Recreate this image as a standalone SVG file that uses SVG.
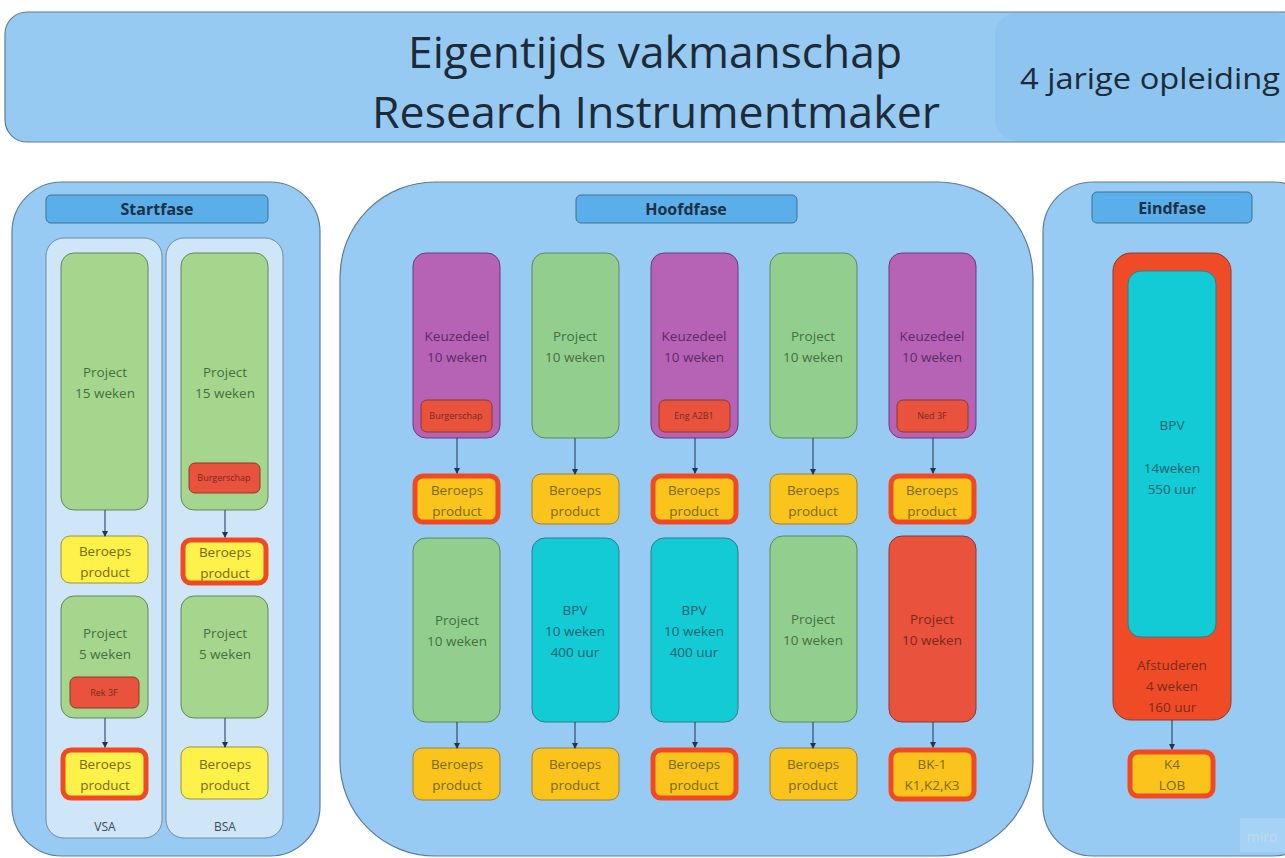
<svg xmlns="http://www.w3.org/2000/svg" width="1285" height="858" viewBox="0 0 1285 858">
<style>
text{font-family:"Open Sans","Noto Sans","Liberation Sans",sans-serif;text-anchor:middle}
.panel{fill:#98cbf4;stroke:#5f7d96;stroke-width:1.2}
.label{fill:#5aaeea;stroke:#3f6f94;stroke-width:1}
.lt{font-weight:bold;font-size:16px;fill:#1f2f44}
.col{fill:#cfe5f8;stroke:#6f8aa2;stroke-width:1}
.g1{fill:#a6d68e;stroke:#5f8a58;stroke-width:1}
.g2{fill:#92cf8f;stroke:#5a8a5a;stroke-width:1}
.pu{fill:#b763b5;stroke:#6b3a78;stroke-width:1}
.cy{fill:#12cbd4;stroke:#357a8a;stroke-width:1}
.rd{fill:#e9523c;stroke:#8a3a2c;stroke-width:1}
.ro{fill:#ef4b27;stroke:#8a3a2c;stroke-width:1}
.rs{fill:#e9523c;stroke:#8a3a2c;stroke-width:1}
.ye{fill:#fdf14a;stroke:#9a9440;stroke-width:1}
.or{fill:#fbc41d;stroke:#9a8040;stroke-width:1}
.hl{stroke:#f04a24;stroke-width:5}
.tg{font-size:13.5px;fill:#44703e}
.tp{font-size:13.5px;fill:#5a2a6a}
.tc{font-size:13.5px;fill:#1d6470}
.tr{font-size:13.5px;fill:#7a2a1c}
.ty{font-size:13.5px;fill:#7a6a14}
.ts{font-size:9px;fill:#7a2a1c}
.ht{font-weight:normal;fill:#1e2a36}
.cn{stroke:#1f3552;stroke-width:1;fill:none;marker-end:url(#ah)}
</style>
<defs>
<marker id="ah" markerWidth="6" markerHeight="6" refX="5" refY="3" orient="auto" markerUnits="userSpaceOnUse">
<path d="M0,0 L6,3 L0,6 z" fill="#1f3552"/>
</marker>
</defs>
<rect width="1285" height="858" fill="#ffffff"/>

<g id="header">
<rect x="5" y="12" width="1300" height="130" rx="22" fill="#97caf3" stroke="#5f7d96" stroke-width="1.2"/>
<rect x="995" y="13" width="300" height="128" rx="22" fill="#8dc4f0"/>
<text class="ht" x="655" y="68" font-size="44" textLength="494" lengthAdjust="spacingAndGlyphs">Eigentijds vakmanschap</text>
<text class="ht" x="656" y="128" font-size="44" textLength="568" lengthAdjust="spacingAndGlyphs">Research Instrumentmaker</text>
<text class="ht" x="1150" y="89" font-size="30" textLength="260" lengthAdjust="spacingAndGlyphs">4 jarige opleiding</text>
</g>

<g id="startfase">
<rect class="panel" x="12" y="182" width="308" height="674" rx="50"/>
<rect class="label" x="46" y="195" width="222" height="28" rx="5"/>
<text class="lt" x="157" y="215">Startfase</text>
<rect class="col" x="46" y="238" width="116" height="600" rx="18"/>
<rect class="col" x="166" y="238" width="117" height="600" rx="18"/>
<text x="105" y="831" font-size="12" fill="#3a4a5a">VSA</text>
<text x="225" y="831" font-size="12" fill="#3a4a5a">BSA</text>
</g>
<g id="s-p15a"><rect class="g1" x="61" y="253" width="87" height="257" rx="13"/><text class="tg" x="105" y="377">Project</text><text class="tg" x="105" y="398">15 weken</text></g>
<g id="s-p15b"><rect class="g1" x="181" y="253" width="87" height="257" rx="13"/><text class="tg" x="225" y="377">Project</text><text class="tg" x="225" y="398">15 weken</text>
<rect class="rs" x="189" y="463" width="71" height="30" rx="6"/><text class="ts" x="224" y="481">Burgerschap</text></g>
<g id="s-bp1"><rect class="ye" x="61" y="536" width="87" height="47" rx="9"/><text class="ty" x="105" y="556">Beroeps</text><text class="ty" x="105" y="577">product</text></g>
<g id="s-bp2"><rect class="ye hl" x="183" y="540" width="83" height="43" rx="8"/><text class="ty" x="225" y="557">Beroeps</text><text class="ty" x="225" y="578">product</text></g>
<g id="s-p5a"><rect class="g1" x="61" y="596" width="87" height="122" rx="13"/><text class="tg" x="105" y="638">Project</text><text class="tg" x="105" y="659">5 weken</text>
<rect class="rs" x="70" y="677" width="69" height="31" rx="6"/><text class="ts" x="104" y="696">Rek 3F</text></g>
<g id="s-p5b"><rect class="g1" x="181" y="596" width="87" height="122" rx="13"/><text class="tg" x="225" y="638">Project</text><text class="tg" x="225" y="659">5 weken</text></g>
<g id="s-bp3"><rect class="ye hl" x="63" y="750" width="83" height="48" rx="8"/><text class="ty" x="105" y="769">Beroeps</text><text class="ty" x="105" y="790">product</text></g>
<g id="s-bp4"><rect class="ye" x="181" y="747" width="87" height="52" rx="9"/><text class="ty" x="225" y="769">Beroeps</text><text class="ty" x="225" y="790">product</text></g>

<g id="hoofdfase">
<rect class="panel" x="340" y="182" width="693" height="674" rx="95"/>
<rect class="label" x="576" y="195" width="221" height="28" rx="5"/>
<text class="lt" x="686" y="215">Hoofdfase</text>
</g>
<g id="h-k1"><rect class="pu" x="413" y="253" width="87" height="185" rx="13"/><text class="tp" x="457" y="341">Keuzedeel</text><text class="tp" x="457" y="362">10 weken</text>
<rect class="rs" x="421" y="400" width="71" height="32" rx="6"/><text class="ts" x="456" y="419">Burgerschap</text></g>
<g id="h-p1"><rect class="g2" x="532" y="253" width="87" height="185" rx="13"/><text class="tg" x="575" y="341">Project</text><text class="tg" x="575" y="362">10 weken</text></g>
<g id="h-k2"><rect class="pu" x="651" y="253" width="87" height="185" rx="13"/><text class="tp" x="694" y="341">Keuzedeel</text><text class="tp" x="694" y="362">10 weken</text>
<rect class="rs" x="659" y="400" width="71" height="32" rx="6"/><text class="ts" x="694" y="419">Eng A2B1</text></g>
<g id="h-p2"><rect class="g2" x="770" y="253" width="87" height="185" rx="13"/><text class="tg" x="813" y="341">Project</text><text class="tg" x="813" y="362">10 weken</text></g>
<g id="h-k3"><rect class="pu" x="889" y="253" width="87" height="185" rx="13"/><text class="tp" x="932" y="341">Keuzedeel</text><text class="tp" x="932" y="362">10 weken</text>
<rect class="rs" x="897" y="400" width="71" height="32" rx="6"/><text class="ts" x="932" y="419">Ned 3F</text></g>

<g id="h-bp1"><rect class="or hl" x="415" y="476" width="83" height="46" rx="8"/><text class="ty" x="457" y="495">Beroeps</text><text class="ty" x="457" y="516">product</text></g>
<g id="h-bp2"><rect class="or" x="532" y="474" width="87" height="50" rx="9"/><text class="ty" x="575" y="495">Beroeps</text><text class="ty" x="575" y="516">product</text></g>
<g id="h-bp3"><rect class="or hl" x="653" y="476" width="83" height="46" rx="8"/><text class="ty" x="694" y="495">Beroeps</text><text class="ty" x="694" y="516">product</text></g>
<g id="h-bp4"><rect class="or" x="770" y="474" width="87" height="50" rx="9"/><text class="ty" x="813" y="495">Beroeps</text><text class="ty" x="813" y="516">product</text></g>
<g id="h-bp5"><rect class="or hl" x="891" y="476" width="83" height="46" rx="8"/><text class="ty" x="932" y="495">Beroeps</text><text class="ty" x="932" y="516">product</text></g>

<g id="h-p3"><rect class="g2" x="413" y="538" width="87" height="184" rx="13"/><text class="tg" x="457" y="625">Project</text><text class="tg" x="457" y="646">10 weken</text></g>
<g id="h-b1"><rect class="cy" x="532" y="538" width="87" height="184" rx="13"/><text class="tc" x="575" y="615">BPV</text><text class="tc" x="575" y="636">10 weken</text><text class="tc" x="575" y="657">400 uur</text></g>
<g id="h-b2"><rect class="cy" x="651" y="538" width="87" height="184" rx="13"/><text class="tc" x="694" y="615">BPV</text><text class="tc" x="694" y="636">10 weken</text><text class="tc" x="694" y="657">400 uur</text></g>
<g id="h-p4"><rect class="g2" x="770" y="536" width="87" height="186" rx="13"/><text class="tg" x="813" y="624">Project</text><text class="tg" x="813" y="645">10 weken</text></g>
<g id="h-p5"><rect class="rd" x="889" y="536" width="87" height="186" rx="13"/><text class="tr" x="932" y="624">Project</text><text class="tr" x="932" y="645">10 weken</text></g>

<g id="h-bp6"><rect class="or" x="413" y="748" width="87" height="52" rx="9"/><text class="ty" x="457" y="769">Beroeps</text><text class="ty" x="457" y="790">product</text></g>
<g id="h-bp7"><rect class="or" x="532" y="748" width="87" height="52" rx="9"/><text class="ty" x="575" y="769">Beroeps</text><text class="ty" x="575" y="790">product</text></g>
<g id="h-bp8"><rect class="or hl" x="653" y="750" width="83" height="48" rx="8"/><text class="ty" x="694" y="769">Beroeps</text><text class="ty" x="694" y="790">product</text></g>
<g id="h-bp9"><rect class="or" x="770" y="748" width="87" height="52" rx="9"/><text class="ty" x="813" y="769">Beroeps</text><text class="ty" x="813" y="790">product</text></g>
<g id="h-bk1"><rect class="or hl" x="891" y="750" width="83" height="49" rx="8"/><text class="ty" x="932" y="769">BK-1</text><text class="ty" x="932" y="790">K1,K2,K3</text></g>

<g id="eindfase">
<rect class="panel" x="1043" y="182" width="280" height="674" rx="50"/>
<rect class="label" x="1092" y="192" width="160" height="31" rx="5"/>
<text class="lt" x="1172" y="214">Eindfase</text>
<rect x="1240" y="818" width="50" height="34" fill="#a5d2f5"/>
<text x="1262" y="842" font-size="14" fill="#c2d9ea">miro</text>
</g>
<g id="e-outer"><rect class="ro" x="1113" y="253" width="118" height="467" rx="18"/>
<text class="tr" x="1172" y="670">Afstuderen</text><text class="tr" x="1172" y="691">4 weken</text><text class="tr" x="1172" y="712">160 uur</text></g>
<g id="e-bpv"><rect class="cy" x="1128" y="271" width="88" height="366" rx="13"/><text class="tc" x="1172" y="430" font-size="12">BPV</text><text class="tc" x="1172" y="473" font-size="12">14weken</text><text class="tc" x="1172" y="494" font-size="12">550 uur</text></g>
<g id="e-k4"><rect class="or hl" x="1130" y="752" width="83" height="44" rx="8"/><text class="ty" x="1172" y="769">K4</text><text class="ty" x="1172" y="790">LOB</text></g>

<g id="connectors">
<line class="cn" x1="105" y1="510" x2="105" y2="536"/>
<line class="cn" x1="225" y1="510" x2="225" y2="537"/>
<line class="cn" x1="105" y1="718" x2="105" y2="747"/>
<line class="cn" x1="225" y1="718" x2="225" y2="747"/>
<line class="cn" x1="457" y1="438" x2="457" y2="473"/>
<line class="cn" x1="575" y1="438" x2="575" y2="474"/>
<line class="cn" x1="695" y1="438" x2="695" y2="473"/>
<line class="cn" x1="813" y1="438" x2="813" y2="474"/>
<line class="cn" x1="933" y1="438" x2="933" y2="473"/>
<line class="cn" x1="457" y1="722" x2="457" y2="748"/>
<line class="cn" x1="575" y1="722" x2="575" y2="748"/>
<line class="cn" x1="695" y1="722" x2="695" y2="747"/>
<line class="cn" x1="813" y1="722" x2="813" y2="748"/>
<line class="cn" x1="933" y1="722" x2="933" y2="747"/>
<line class="cn" x1="1172" y1="720" x2="1172" y2="749"/>
</g>
</svg>
